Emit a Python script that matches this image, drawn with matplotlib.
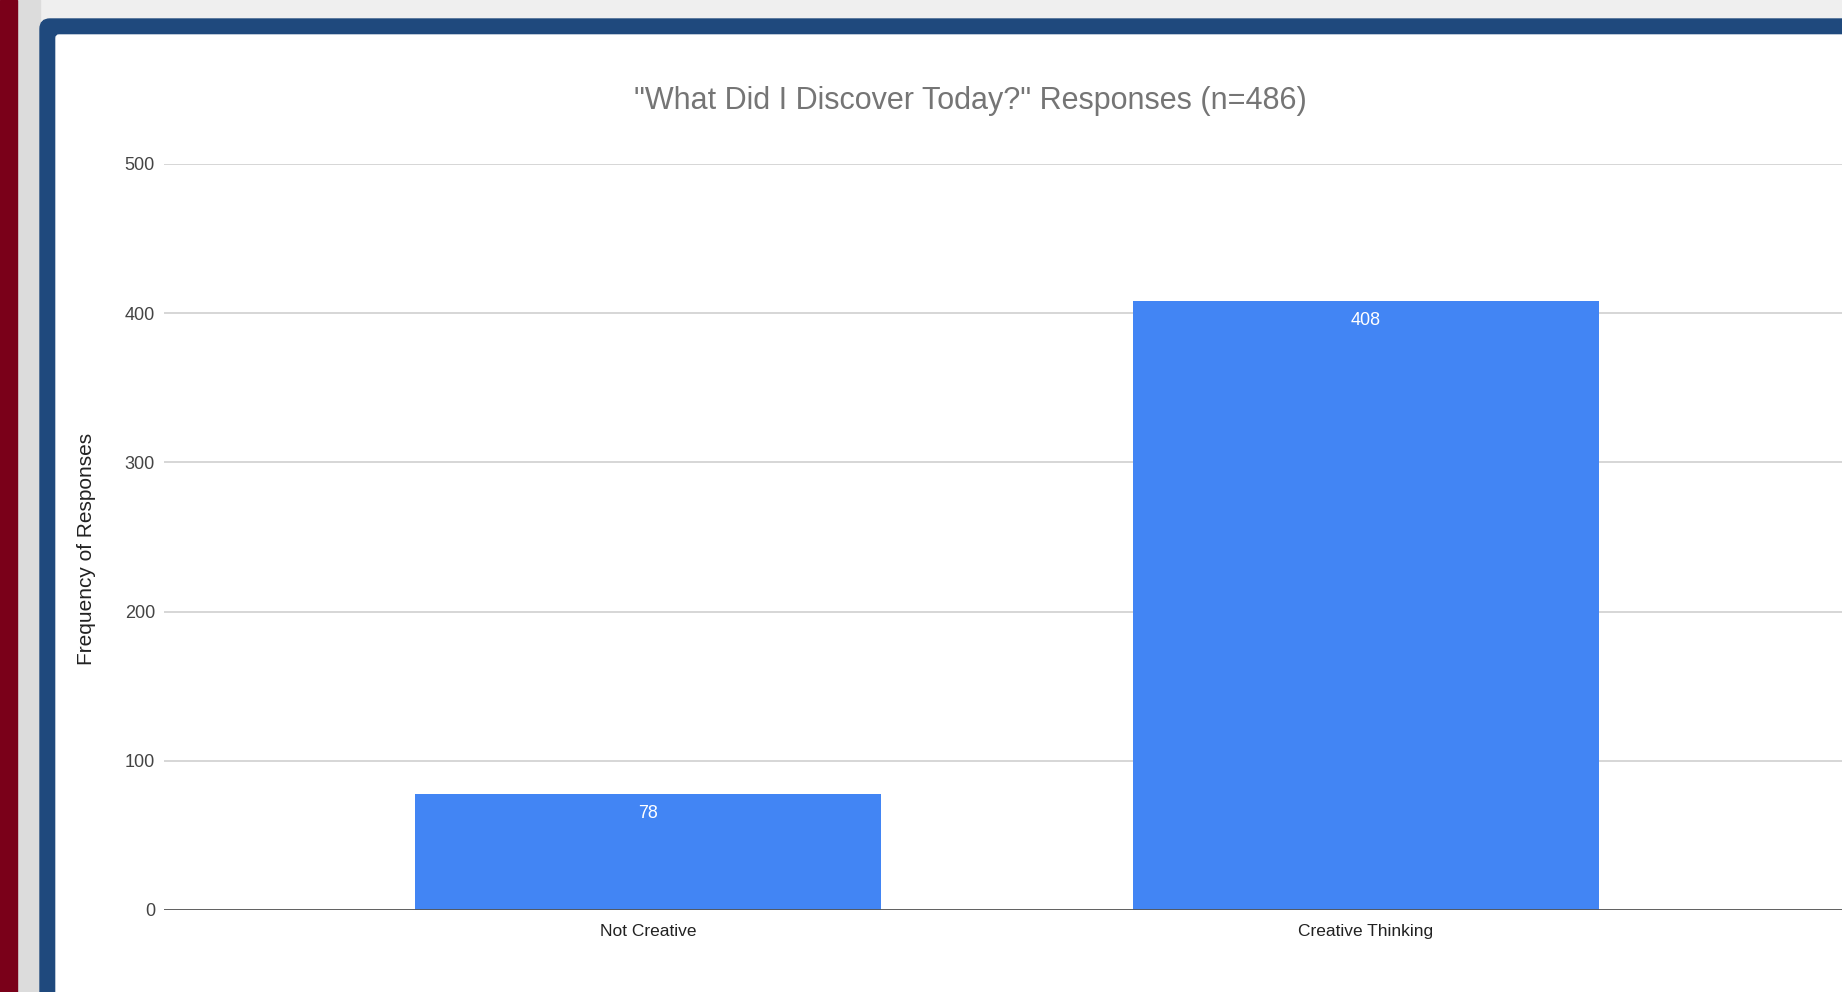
import matplotlib
matplotlib.use("Agg")
import matplotlib.pyplot as plt
from matplotlib.patches import Rectangle, FancyBboxPatch
from matplotlib.transforms import Affine2D
from matplotlib import font_manager

categories = ["Not Creative", "Creative Thinking"]
counts = [78, 408]
yticks = [0, 100, 200, 300, 400, 500]
title = '"What Did I Discover Today?" Responses (n=486)'

W, H = 1842, 992
for f in font_manager.fontManager.ttflist:
    if f.stretch != "normal" or "Cond" in f.fname or "Narrow" in f.fname:
        print(f.name, f.stretch, f.fname)

fig = plt.figure(figsize=(W / 100, H / 100), dpi=100, facecolor="#efefef")
px = Affine2D().scale(1 / W, 1 / H) + fig.transFigure

# page decoration: maroon strip, grey gutter, blue rounded frame, white card
fig.patches.append(Rectangle((17, 0), 23, H, transform=px, color="#dcdcdc", zorder=0))
fig.patches.append(Rectangle((0, 0), 17, H, transform=px, color="#7a0019", zorder=1))
fig.patches.append(FancyBboxPatch((40, -60), W + 60, 992 - 19 + 60, transform=px,
                                  boxstyle="round,pad=0,rounding_size=10",
                                  color="#1f497d", zorder=1))
fig.patches.append(FancyBboxPatch((56, -60), W + 60, 992 - 35 + 60, transform=px,
                                  boxstyle="round,pad=0,rounding_size=3",
                                  color="white", zorder=2))

ax = fig.add_axes([164 / W, 82 / H, 1 - 164 / W, (910 - 164) / H])
ax.set_zorder(3)
ax.patch.set_alpha(0)

FONT = "Liberation Sans"
x = range(len(categories))
bars = ax.bar(x, counts, width=0.648, color="#4285f4", zorder=2)
for b, v in zip(bars, counts):
    ax.text(b.get_x() + b.get_width() / 2, v - 13, str(v), ha="center", va="center",
            color="white", fontsize=13, family=FONT, zorder=3)

ax.set_xlim(-0.674, 1.663)
ax.set_ylim(0, 500)
ax.set_yticks(yticks)
ax.set_yticklabels([str(t) for t in yticks], family=FONT, fontsize=13, color="#444444")
ax.set_xticks(list(x))
ax.set_xticklabels(categories, family=FONT, fontsize=12.5, color="#222222")
ax.tick_params(axis="y", length=0, pad=6.5)
ax.tick_params(axis="x", length=0, pad=10)
ax.grid(axis="y", color="#d0d0d0", lw=1.2, zorder=0)
ax.axhline(0, color="#555555", lw=2, zorder=3)
for s in ax.spines.values():
    s.set_visible(False)

ax.set_ylabel("Frequency of Responses", family=FONT, fontsize=15, color="#222222")
ax.yaxis.set_label_coords((96 - 164) / (W - 164), 0.484)

fig.text(970 / W, (H - 101) / H, title, ha="center", va="center",
         family=FONT, fontsize=22, color="#757575", zorder=4)

fig.savefig("out.png", dpi=100, facecolor=fig.get_facecolor())
